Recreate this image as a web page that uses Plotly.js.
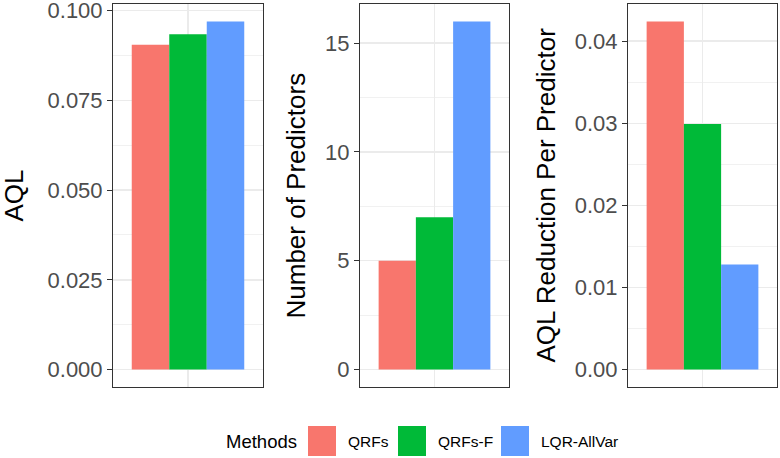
<!DOCTYPE html>
<html>
<head>
<meta charset="utf-8">
<script src="https://cdn.plot.ly/plotly-3.0.1.min.js"></script>
<style>html,body{margin:0;padding:0;background:#fff;}#chart{width:780px;height:458px;}</style>
</head>
<body>
<div id="chart"></div>
<script>
// ---- data ----
const methods = ["QRFs", "QRFs-F", "LQR-AllVar"];
const colors = ["#F8766D", "#00BA38", "#619CFF"];
const aql = [0.0905, 0.0934, 0.0970];
const numPredictors = [5, 7, 16];
const aqlReductionPerPredictor = [0.0424, 0.0299, 0.0128];
const panelTitles = ["AQL", "Number of Predictors", "AQL Reduction Per Predictor"];
const legendTitle = "Methods";

const W = 780, H = 458;
const px = x => x / W;
const py = y => 1 - y / H;
const FONT = "Liberation Sans, Arial, sans-serif";

const panels = [
  {vals: aql, x0: 113, x1: 263, dtick: 0.025, fmt: ".3f", titleX: 13},
  {vals: numPredictors, x0: 360, x1: 509, dtick: 5, fmt: "d", titleX: 295},
  {vals: aqlReductionPerPredictor, x0: 628, x1: 777, dtick: 0.01, fmt: ".2f", titleX: 545}
];
const plotTop = 4, plotBottom = 387;

const traces = [];
const layout = {
  width: W, height: H,
  margin: {l: 0, r: 0, t: 0, b: 0},
  paper_bgcolor: "#fff", plot_bgcolor: "#fff",
  barmode: "group", bargap: 0.1, bargroupgap: 0,
  showlegend: false,
  font: {family: FONT},
  shapes: [], annotations: []
};

panels.forEach((p, i) => {
  const n = i === 0 ? "" : String(i + 1);
  const xa = "x" + n, ya = "y" + n;
  methods.forEach((m, j) => {
    traces.push({
      type: "bar", name: m, x: [1], y: [p.vals[j]],
      xaxis: xa, yaxis: ya,
      marker: {color: colors[j], line: {width: 0}},
      hoverinfo: "none"
    });
  });
  const mx = Math.max(...p.vals);
  layout["xaxis" + n] = {
    domain: [px(p.x0), px(p.x1)], anchor: ya,
    range: [0.4, 1.6], tickvals: [1], showticklabels: false, ticks: "",
    showgrid: true, gridcolor: "#EBEBEB", gridwidth: 1.4, zeroline: false,
    showline: true, mirror: true, linecolor: "#333333", linewidth: 1, fixedrange: true
  };
  layout["yaxis" + n] = {
    domain: [py(plotBottom), py(plotTop)], anchor: xa,
    range: [-0.05 * mx, 1.05 * mx],
    tickmode: "linear", tick0: 0, dtick: p.dtick, tickformat: p.fmt,
    ticks: "outside", ticklen: 5, tickwidth: 1, tickcolor: "#333333",
    tickfont: {family: FONT, size: 22, color: "#4D4D4D"},
    ticklabeloverflow: "allow",
    showgrid: true, gridcolor: "#EBEBEB", gridwidth: 1.4, zeroline: false,
    minor: {tick0: 0, dtick: p.dtick / 2, showgrid: true, gridcolor: "#EBEBEB", gridwidth: 0.7, ticks: ""},
    showline: true, mirror: true, linecolor: "#333333", linewidth: 1, fixedrange: true
  };
  layout.annotations.push({
    text: panelTitles[i], xref: "paper", yref: "paper",
    x: px(p.titleX), y: py((plotTop + plotBottom) / 2),
    xanchor: "center", yanchor: "middle", textangle: -90, showarrow: false,
    font: {family: FONT, size: 26, color: "#000"}
  });
});

// ---- legend (drawn manually to match ggplot-style keys) ----
layout.annotations.push({
  text: legendTitle, xref: "paper", yref: "paper", x: px(224), y: py(441),
  xanchor: "left", yanchor: "middle", showarrow: false,
  font: {family: FONT, size: 18.5, color: "#000"}
});
const keyX = [308, 398, 501];
methods.forEach((m, j) => {
  layout.shapes.push({
    type: "rect", xref: "paper", yref: "paper",
    x0: px(keyX[j]), x1: px(keyX[j] + 28), y0: py(456), y1: py(426),
    fillcolor: colors[j], line: {width: 0}
  });
  layout.annotations.push({
    text: m, xref: "paper", yref: "paper", x: px(keyX[j] + 38), y: py(441),
    xanchor: "left", yanchor: "middle", showarrow: false,
    font: {family: FONT, size: 15.5, color: "#000"}
  });
});

Plotly.newPlot("chart", traces, layout, {staticPlot: true, displayModeBar: false});
</script>
</body>
</html>
